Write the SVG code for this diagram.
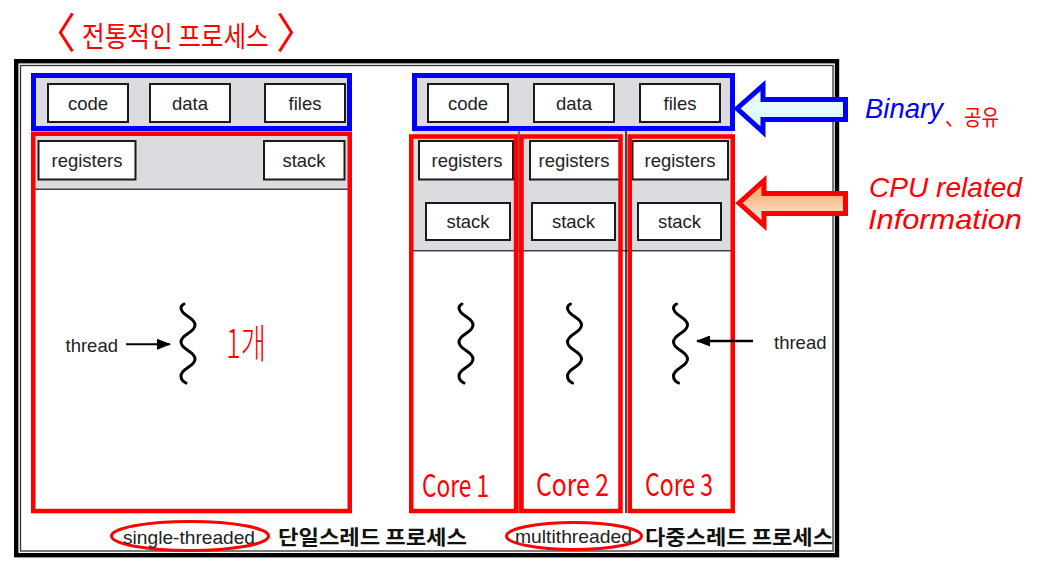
<svg xmlns="http://www.w3.org/2000/svg" width="1037" height="568" viewBox="0 0 1037 568">
<style>
.box{fill:#fff;stroke:#1a1a1a;stroke-width:2}
.lbl{font-family:"Liberation Sans",Arial,sans-serif;font-size:18.5px;fill:#222;text-anchor:middle}
.gray{fill:#dcdbdf}
.blue{fill:none;stroke:#0000ff;stroke-width:5}
.red{fill:none;stroke:#ff0000;stroke-width:4.5}
.sq{fill:none;stroke:#000;stroke-width:3;stroke-linecap:round}
.kr{font-family:"Noto Sans CJK KR","Noto Sans",sans-serif;font-size:20.5px;font-weight:bold;fill:#111}
.hand{font-family:"Noto Sans CJK KR","Noto Sans",sans-serif;fill:#ff0000}
.note{font-family:"Liberation Sans",Arial,sans-serif;font-style:italic;font-size:28px}
</style>
<defs>
<linearGradient id="gBlue" x1="0" y1="0" x2="0" y2="1"><stop offset="0" stop-color="#f6feff"/><stop offset="1" stop-color="#d2f6ff"/></linearGradient>
<linearGradient id="gRed" x1="0" y1="0" x2="0" y2="1"><stop offset="0" stop-color="#f59a52"/><stop offset="1" stop-color="#fff1ea"/></linearGradient>
<path id="squig" class="sq" d="M184,304 C182,305 181,306 181,308 C181,316 195,317 195,325 C195,333 181,334 181,342 C181,350 195,351 195,359 C195,367 181,368 181,376 C181,380 184,382 186,383"/>
<marker id="ah" viewBox="0 0 14 11" refX="13" refY="5.5" markerWidth="14" markerHeight="11" markerUnits="userSpaceOnUse" orient="auto"><path d="M0,0 L14,5.5 L0,11 Z" fill="#000"/></marker>
</defs>
<rect width="1037" height="568" fill="#fff"/>

<g id="title">
<text class="hand" x="34" y="48" font-size="42">〈</text>
<text class="hand" transform="translate(82,47) scale(0.88,1)" x="0" y="0" font-size="28">전통적인 프로세스</text>
<text class="hand" x="276" y="48" font-size="42">〉</text>
</g>

<g id="frame">
<rect x="16.2" y="61.2" width="820.8" height="494" fill="none" stroke="#000" stroke-width="4.4"/>
<rect x="20.5" y="65.5" width="812.5" height="485.5" fill="none" stroke="#333" stroke-width="1.3"/>
</g>

<g id="single-process">
<rect x="33.5" y="75.5" width="316" height="53" class="gray"/>
<rect x="35" y="135" width="313" height="54.3" class="gray"/>
<line x1="35" y1="189.3" x2="348" y2="189.3" stroke="#444" stroke-width="1.6"/>
<rect class="box" x="48" y="84" width="80" height="38"/><text class="lbl" x="88" y="110">code</text>
<rect class="box" x="150" y="84" width="80" height="38"/><text class="lbl" x="190" y="110">data</text>
<rect class="box" x="265" y="84" width="80" height="38"/><text class="lbl" x="305" y="110">files</text>
<rect class="box" x="38.5" y="141" width="97" height="38.5"/><text class="lbl" x="87" y="167">registers</text>
<rect class="box" x="264" y="141" width="80.5" height="38.5"/><text class="lbl" x="304" y="167">stack</text>
<rect class="blue" x="33.5" y="75.5" width="316" height="53"/>
<rect class="red" x="33.25" y="133.75" width="316.5" height="377.3"/>
<use href="#squig"/>
<text class="hand" x="226" y="358" font-size="40" textLength="40" lengthAdjust="spacingAndGlyphs" font-weight="300">1개</text>
</g>

<g id="multi-process">
<rect x="414.5" y="75.5" width="318" height="53" class="gray"/>
<rect x="413" y="131" width="320" height="119.7" class="gray"/>
<line x1="413" y1="250.7" x2="733" y2="250.7" stroke="#444" stroke-width="1.6"/>
<line x1="519" y1="131" x2="519" y2="513" stroke="#555" stroke-width="1.5"/>
<line x1="626" y1="131" x2="626" y2="513" stroke="#111" stroke-width="1.5"/>
<rect class="box" x="428" y="84" width="80" height="38"/><text class="lbl" x="468" y="110">code</text>
<rect class="box" x="534" y="84" width="80" height="38"/><text class="lbl" x="574" y="110">data</text>
<rect class="box" x="640" y="84" width="80" height="38"/><text class="lbl" x="680" y="110">files</text>
<rect class="box" x="419" y="141" width="94" height="38.5"/><text class="lbl" x="467" y="167">registers</text>
<rect class="box" x="530" y="141" width="91" height="38.5"/><text class="lbl" x="574" y="167">registers</text>
<rect class="box" x="632.5" y="141" width="95.5" height="38.5"/><text class="lbl" x="680" y="167">registers</text>
<rect class="box" x="426" y="203" width="84" height="37"/><text class="lbl" x="468" y="228">stack</text>
<rect class="box" x="532" y="203" width="83" height="37"/><text class="lbl" x="573.5" y="228">stack</text>
<rect class="box" x="638" y="203" width="83" height="37"/><text class="lbl" x="679.5" y="228">stack</text>
<rect class="blue" x="414.5" y="75.5" width="318" height="53"/>
<rect class="red" x="411.25" y="136.5" width="104.8" height="374.5"/>
<rect class="red" x="521.5" y="136.5" width="99" height="374.5"/>
<rect class="red" x="629.75" y="136.5" width="103" height="374.5"/>
<use href="#squig" transform="translate(278,0)"/>
<use href="#squig" transform="translate(386.5,0)"/>
<use href="#squig" transform="translate(492.5,0)"/>
<text class="hand" x="422" y="497" font-size="31" textLength="67" lengthAdjust="spacingAndGlyphs">Core 1</text>
<text class="hand" x="536" y="496" font-size="31" textLength="73" lengthAdjust="spacingAndGlyphs">Core 2</text>
<text class="hand" x="645" y="496" font-size="31" textLength="68" lengthAdjust="spacingAndGlyphs">Core 3</text>
</g>

<g id="connectors">
<line x1="126" y1="344.3" x2="170" y2="344.3" stroke="#000" stroke-width="2" marker-end="url(#ah)"/>
<line x1="753" y1="341" x2="697" y2="341" stroke="#000" stroke-width="2.5" marker-end="url(#ah)"/>
<path d="M737,108.5 L763,85.5 L763,99.5 L845.5,99.5 L845.5,119.5 L763,119.5 L763,132 Z" fill="url(#gBlue)" stroke="#0000ff" stroke-width="5"/>
<path d="M739,203 L764,180.5 L764,193.5 L845.5,193.5 L845.5,213.5 L764,213.5 L764,225.5 Z" fill="url(#gRed)" stroke="#ff0000" stroke-width="5"/>
</g>

<g id="thread-labels">
<text class="lbl" x="118" y="352" style="text-anchor:end">thread</text>
<text class="lbl" x="774" y="349" style="text-anchor:start">thread</text>
</g>

<g id="notes">
<text class="note" x="865" y="118" fill="#0000ff" textLength="78" lengthAdjust="spacingAndGlyphs">Binary</text>
<text class="hand" x="945" y="125" font-size="22" textLength="54" lengthAdjust="spacingAndGlyphs">、공유</text>
<text class="note" x="869" y="197" fill="#ff0000" textLength="153" lengthAdjust="spacingAndGlyphs">CPU related</text>
<text class="note" x="868" y="229" fill="#ff0000" textLength="154" lengthAdjust="spacingAndGlyphs">Information</text>
</g>

<g id="captions">
<ellipse cx="190" cy="536" rx="78.5" ry="14.5" fill="none" stroke="#ff0000" stroke-width="3"/>
<text class="lbl" x="189" y="544" textLength="132" lengthAdjust="spacingAndGlyphs">single-threaded</text>
<text class="kr" x="278" y="545" textLength="189" lengthAdjust="spacingAndGlyphs">단일스레드 프로세스</text>
<ellipse cx="574" cy="536" rx="67.5" ry="13.5" fill="none" stroke="#ff0000" stroke-width="3"/>
<text class="lbl" x="573.5" y="543" textLength="117" lengthAdjust="spacingAndGlyphs">multithreaded</text>
<text class="kr" x="645" y="545" textLength="188" lengthAdjust="spacingAndGlyphs">다중스레드 프로세스</text>
</g>
</svg>
